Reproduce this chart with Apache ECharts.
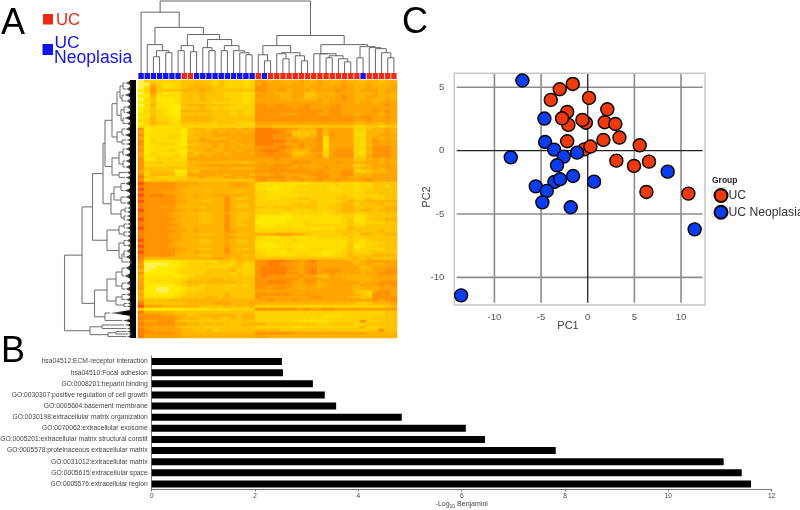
<!DOCTYPE html>
<html><head><meta charset="utf-8">
<style>html,body{margin:0;padding:0;background:#fff}#c{width:800px;height:510px;filter:blur(0.4px)}</style>
<script src="https://cdn.jsdelivr.net/npm/echarts@6/dist/echarts.min.js"></script>
</head><body><div id="c"></div>
<script>
// ---------- Panel A: sample groups in column order (N = UC Neoplasia, U = UC)
const columnGroups = 'NNNNNNNUUNNNNNNNNNNUNUUUUUUUUUUUUUUUNUUUUU'.split('');
// ---------- Panel A: expression level (0 = pale yellow ... 9 = red) per gene band, per sample
const heatRows = [
"033333344 4443433323 66565556556555655 455455",
"005322344 5543432323 67666566556656665 565556",
"026422345 5554433333 77666666566566765 565556",
"137444455 5654444444 77667566656667665 666566",
"026322244 4544433322 66655566445556665 556565",
"115222245 4544433322 76665566445656765 566555",
"024111244 4544443322 66665565556566765 565565",
"124211244 4443333323 66666666666566665 665666",
"025211145 5544443333 77677666766667666 666676",
"124221144 4543433333 77777767766677666 666666",
"134321155 5554443433 77777777777677666 667676",
"224321144 4444443433 77776667776677665 666566",
"125332155 5554444444 77777777777777776 776676",
"235332255 5554444444 77777777777777776 676666",
"135443244 4443444333 66666666666666665 565565",
"223222233 3333333333 55544444444444443 344344",
"712222314 5545556565 88877665557566663 345565",
"612222214 4556565656 88887644447566663 255565",
"722223314 5556666666 88877744457476662 255666",
"612223214 4655556566 88877665667266663 356565",
"713222215 5666665666 88888676667266663 257666",
"712333214 4556566565 88877667667266663 256666",
"612222225 5556565656 77778767667266663 357776",
"712223214 5565566566 78887655577367773 257776",
"613222215 4555656665 77877644566367773 257776",
"622323325 5656666666 77777755667367773 367776",
"712333226 6666666666 66676666666666664 456566",
"733433335 5555555545 66666677766667665 566565",
"723333335 5666666666 67677766656666663 456666",
"744444445 5555665555 66777667666766664 556566",
"634444115 4666666666 77777777767666773 345556",
"735555226 6666656665 66676666677766775 556666",
"844333335 5655566566 77777676667766765 666666",
"734443444 4444444444 77667667667667666 676666",
"977777666 6555556665 32222222233333332 334444",
"877777665 5555556665 22212223333323332 334434",
"977777655 5545555555 22112222232322332 334444",
"877766655 5555555455 33222233333333333 344444",
"978877665 6556665655 32222222333333432 333444",
"877777655 5555575445 33223334433334443 343344",
"977777665 5445575555 33333333343333454 455555",
"877777655 5555575445 33333344443334553 444544",
"877767555 5455575445 44344434443344554 444455",
"977777665 6555575555 33333433343334554 554555",
"877776555 5445565445 33332233333234443 344444",
"877776655 5455575445 21111122222222332 234444",
"977777555 5445575445 11111122222222341 244455",
"877776655 5445575455 11111222322222342 233344",
"877777655 5555575445 21122222333333343 344444",
"977776655 6555575555 22222322222223354 444444",
"877777665 6555576555 33333333333334444 444544",
"877776655 5445565445 55566655433333443 554455",
"877776655 5555566555 32223322223333343 344444",
"977777655 5445565445 22222232222222233 234444",
"877776555 5445565445 21122222222222242 233344",
"977776655 5555565555 21112221222222241 233444",
"877777665 5445575445 22222322223222342 333344",
"977777655 6555575555 32221222222112343 334444",
"877777555 5445565545 33222223322123354 445555",
"855555555 5556655555 44444444444444445 454444",
"711111223 3333443544 77888776786666654 566666",
"600001123 3343333433 77887766776666665 565566",
"700111123 3333334433 78888776776666666 456666",
"501111233 3344445333 78888766786777666 556677",
"711111233 3344443433 78888776786676666 566777",
"511212123 4444444444 78777667665466555 556666",
"622222234 4445544444 77777776776666655 556666",
"612222345 5555555444 77888766775666666 566777",
"611111234 4344443434 77777766665566665 666767",
"711001123 3344434444 77677665665666655 565666",
"511001123 3444444444 66666666666666664 436776",
"611111234 4444454444 77777766766666665 437776",
"522222344 4455454444 76666666677666655 447777",
"644445555 5555555555 66766676666666666 667677",
"844444445 5556665556 55555555555555554 345556",
"966655555 5444454545 33333333333333333 333345",
"411111122 2223223333 77777776766776666 666666",
"855555444 4444444444 33333333333333333 333344",
"777766554 4555555455 33333333333222333 333344",
"877777655 5445445455 33333333323233333 334444",
"766777544 4444444444 33333332222233333 733444",
"877777665 5454544455 55444444443344443 344444",
"766666544 4434444444 33333322333333333 533444",
"876666655 4453444444 55554444444444444 344744",
"877777655 5555555555 77777766666666666 655555",
"866666655 5555555555 66555555555555555 555555"
];
const heatColors = ['#FFF050','#FFEA00','#FFDE00','#FFD200','#FFC400','#FFB400','#FFA400','#FF9400','#FF8000','#FF5010'];
// ---------- Panel A: sample dendrogram [height, childA, childB], leaves are column numbers
const sampleTree = [71,
 [60, 0,
  [45,
   [28, 1, [22, [16,2,3], [20,4,5]]],
   [38,
    [27, [22,6,7], [21,8,9]],
    [33,
     [25, 10, [22,11,12]],
     [27, [22,13,14], [22,15,[20,16,[18,17,18]]]]]]]],
 [37,
  [27, [18,19,[12,20,21]],
       [20, [19,22,[14,23,24]], [17,25,[12,26,27]]]],
  [28,
   [19,28,[19,29,[17,[15,30,31],[14,32,[11,33,34]]]]],
   [26,[15,35,36],[25,37,[24,38,[20,39,[15,40,41]]]]]]]];
// ---------- Panel A: gene dendrogram [distance, childA, childB], leaves are gene clusters [from, to, depth]
const geneTree = [71.5,
 [54,
  [43.5,
   [33,
    [31,
     [24,
      [19,
       [16,[13,[0,6,11],[6,12,10]],[14,[12,18,12],[18,24,10]]],
       [15,[12,[24,30,10],[30,35,11]],[13,[35,41,12],[41,46,10]]]],
      [19,[14,[46,52,11],[52,58,12]],[14,[58,62,10],[62,66,11]]]],
     [24,
      [17,[13,[66,72,11],[72,78,12]],[13,[78,84,11],[84,90,11]]],
      [17,[90,95,10],[95,100,11]]]],
    [25,
     [22,[15,[100,107,11],[107,114,12]],[15,[114,120,11],[120,126,10]]],
     [15,[11,[126,130,9],[130,134,10]],[12,[134,138,10],[138,142,11]]]]],
   [29,
    [17,[12,[142,146,9],[146,150,11]],[12,[150,154,9],[154,158,10]]],
    [17,[12,[158,163,10],[163,168,9]],[14,[12,[168,174,10],[174,180,11]],[180,184,8]]]]],
  [41.5,
   [29,
    [20,[14,[184,192,11],[192,200,12]],[14,[200,206,10],[206,212,11]]],
    [20,[14,[212,217,10],[217,222,11]],[12,[222,225,9],[225,228,10]]]],
   [31,[228,238,26],[238,243,14]]]],
 [46,
  [34,[243,247,12],[247,250,10]],
  [28,[20,[250,253,10],[253,255,8]],[255,258,10]]]];
// ---------- Panel B
const termLabels = ['hsa04512:ECM-receptor interaction','hsa04510:Focal adhesion','GO:0008201:heparin binding','GO:0030307:positive regulation of cell growth','GO:0005604:basement membrane','GO:0030198:extracellular matrix organization','GO:0070062:extracellular exosome','GO:0005201:extracellular matrix structural constit','GO:0005578:proteinaceous extracellular matrix','GO:0031012:extracellular matrix','GO:0005615:extracellular space','GO:0005576:extracellular region'];
const termValues = [2.52,2.54,3.12,3.35,3.57,4.84,6.08,6.45,7.82,11.07,11.42,11.6];
// ---------- Panel C
const pcaUC = [[-1.6,5.26],[-3,4.84],[-3.96,4],[0.14,4.16],[2.1,3.26],[-2.2,3.05],[-0.2,2.2],[-0.57,2.42],[-2.07,2.03],[-2.75,2.55],[1.82,2.24],[2.96,2.1],[3.4,1.03],[1.68,0.84],[-2.2,0.74],[-0.36,0.1],[0.29,0.32],[5.57,0.42],[3.07,-0.79],[4.96,-1.21],[6.57,-0.87],[6.29,-3.26],[10.79,-3.39]];
const pcaNeo = [[-7,5.53],[-4.64,2.53],[-4.57,0.68],[-3.6,0.08],[-2.57,-0.47],[-1.14,-0.16],[-8.25,-0.53],[-3.29,-1.16],[8.57,-1.66],[-1.57,-2],[0.68,-2.45],[-3.57,-2.47],[-2.96,-2.26],[-5.57,-2.82],[-4.39,-3.18],[-4.86,-4.08],[-1.82,-4.47],[11.46,-6.21],[-13.57,-11.42]];
const pcaXTicks = [-10,-5,0,5,10];
const pcaYTicks = [5,0,-5,-10];

const FONT = '"Liberation Sans", Arial, sans-serif';
const cU = '#EE2A12', cN = '#1414E6';

// flatten trees
const sampleSegs = [];
(function walk(n){
  if (typeof n === 'number') return {x:n+0.5,h:0};
  const a = walk(n[1]), b = walk(n[2]);
  sampleSegs.push([a.x,a.h,a.x,n[0]],[b.x,b.h,b.x,n[0]],[a.x,n[0],b.x,n[0]]);
  return {x:(a.x+b.x)/2,h:n[0]};
})(sampleTree);
const geneSegs = [], geneFans = [];
(function walk(n){
  if (!Array.isArray(n[1])) { geneFans.push(n); return {y:(n[0]+n[1])/2,d:n[2]}; }
  const a = walk(n[1]), b = walk(n[2]);
  geneSegs.push([a.d,a.y,n[0],a.y],[b.d,b.y,n[0],b.y],[n[0],a.y,n[0],b.y]);
  return {y:(a.y+b.y)/2,d:n[0]};
})(geneTree);

const heatData = [];
heatRows.forEach((r,i)=>{ r.replace(/ /g,'').split('').forEach((v,j)=>heatData.push([j,i,+v])); });
const heatCols = columnGroups.map((_,i)=>i), heatY = heatRows.map((_,i)=>i);

// PCA reference lines
const pcaGridMajor = [], pcaGridZero = [];
pcaXTicks.forEach(t=>(t===0?pcaGridZero:pcaGridMajor).push([t,6.05,t,-12]));
pcaYTicks.forEach(t=>(t===0?pcaGridZero:pcaGridMajor).push([-14.04,t,12.32,t]));

function segSeries(name,data,xi,yi,color,width,z){
  return {type:'custom',name,xAxisIndex:xi,yAxisIndex:yi,data,silent:true,z:z||2,clip:false,
    encode:{x:[0,2],y:[1,3]},
    renderItem:(p,api)=>{
      const s=api.coord([api.value(0),api.value(1)]), e=api.coord([api.value(2),api.value(3)]);
      return {type:'line',shape:{x1:s[0],y1:s[1],x2:e[0],y2:e[1]},style:{stroke:color,lineWidth:width}};
    }};
}
const text=(t,x,y,size,color,extra)=>({type:'text',x,y,z:20,style:Object.assign({text:t,x:0,y:0,fontSize:size,fill:color,fontFamily:FONT,textVerticalAlign:'middle'},extra||{})});

const chart = echarts.init(document.getElementById('c'),null,{renderer:'canvas'});
chart.setOption({
  animation:false,backgroundColor:'#fff',textStyle:{fontFamily:FONT},
  grid:[
    {left:138,top:73,width:259,height:6,outerBoundsMode:'none'},
    {left:138,top:80,width:259,height:258,outerBoundsMode:'none'},
    {left:138,top:0,width:259,height:73,outerBoundsMode:'none'},
    {left:64,top:80,width:72,height:258,outerBoundsMode:'none'},
    {left:454.3,top:73.3,width:250.7,height:231.7,show:true,borderColor:'#c8c8c8',borderWidth:1.5,backgroundColor:'#fff',outerBoundsMode:'none'},
    {left:151.7,top:356,width:620,height:133.5,outerBoundsMode:'none'}
  ],
  xAxis:[
    {gridIndex:0,type:'category',data:heatCols,show:false},
    {gridIndex:1,type:'category',data:heatCols,show:false},
    {gridIndex:2,type:'value',min:0,max:42,show:false},
    {gridIndex:3,type:'value',min:0,max:72,inverse:true,show:false},
    {gridIndex:4,type:'value',min:-14.3,max:12.57,splitLine:{show:false},axisLine:{show:false},axisTick:{show:false},
      axisLabel:{customValues:pcaXTicks,color:'#555',fontSize:9.5,margin:7,hideOverlap:false}},
    {gridIndex:5,type:'value',min:0,max:12,interval:2,splitLine:{show:false},
      axisLine:{show:true,lineStyle:{color:'#777',width:1}},axisTick:{show:true,length:2,lineStyle:{color:'#777'}},
      axisLabel:{color:'#444',fontSize:6.5,margin:3},
      name:'{a|-Log}{s|10}{a| Benjamini}',nameLocation:'middle',nameGap:9,
      nameTextStyle:{rich:{a:{fontSize:7,color:'#444'},s:{fontSize:5,color:'#444',verticalAlign:'bottom',padding:[6,0,0,0]}}}}
  ],
  yAxis:[
    {gridIndex:0,type:'value',min:0,max:1,show:false},
    {gridIndex:1,type:'category',data:heatY,inverse:true,show:false},
    {gridIndex:2,type:'value',min:0,max:72,show:false},
    {gridIndex:3,type:'value',min:0,max:258,inverse:true,show:false},
    {gridIndex:4,type:'value',min:-12.18,max:6.1,splitLine:{show:false},axisLine:{show:false},axisTick:{show:false},
      axisLabel:{customValues:pcaYTicks,color:'#555',fontSize:9.5,margin:10}},
    {gridIndex:5,type:'category',data:termLabels,inverse:true,
      axisLine:{show:true,lineStyle:{color:'#777',width:1}},axisTick:{show:false},
      axisLabel:{color:'#444',fontSize:6.72,margin:4,interval:0}}
  ],
  visualMap:[{type:'continuous',show:false,min:0,max:9,seriesIndex:1,inRange:{color:heatColors}}],
  legend:{data:['UC','UC Neoplasia'],orient:'vertical',left:713.5,top:188,padding:0,itemWidth:13,itemHeight:13,itemGap:1.7,
    icon:'circle',selectedMode:false,textStyle:{fontSize:12.2,color:'#333',padding:[0,0,0,-4]}},
  series:[
    {type:'bar',xAxisIndex:0,yAxisIndex:0,barWidth:5.4,silent:true,
      data:columnGroups.map(g=>({value:1,itemStyle:{color:g==='N'?cN:cU}}))},
    {type:'heatmap',xAxisIndex:1,yAxisIndex:1,data:heatData,silent:true,progressive:0,emphasis:{disabled:true},itemStyle:{borderWidth:0}},
    segSeries('sampleTree',sampleSegs,2,2,'#666',1),
    segSeries('geneTree',geneSegs,3,3,'#777',1.1),
    {type:'custom',name:'geneFans',xAxisIndex:3,yAxisIndex:3,data:geneFans,silent:true,clip:false,
      encode:{y:[0,1],x:2},
      renderItem:(p,api)=>{
        const y0=api.value(0),y1=api.value(1),d=api.value(2),mid=(y0+y1)/2;
        const tip=api.coord([d,mid]), base=api.coord([0,mid]);
        const pts=[tip,api.coord([6.5,y0+(mid-y0)*0.45]),api.coord([6,y0]),api.coord([0,y0]),api.coord([0,y1]),api.coord([6,y1]),api.coord([6.5,y1-(y1-mid)*0.45])];
        return {type:'polygon',shape:{points:pts},style:{fill:new echarts.graphic.LinearGradient(tip[0],0,base[0],0,[{offset:0,color:'#888'},{offset:0.35,color:'#444'},{offset:0.55,color:'#000'},{offset:1,color:'#000'}],true)}};
      }},
    segSeries('pcaGrid',pcaGridMajor,4,4,'#8c8c8c',1.6,1),
    segSeries('pcaZero',pcaGridZero,4,4,'#222',1.3,1),
    {type:'scatter',name:'UC',xAxisIndex:4,yAxisIndex:4,data:pcaUC,symbolSize:13,z:3,silent:true,
      itemStyle:{color:'#F03A0C',borderColor:'#000',borderWidth:1.4,opacity:1}},
    {type:'scatter',name:'UC Neoplasia',xAxisIndex:4,yAxisIndex:4,data:pcaNeo,symbolSize:13,z:4,silent:true,
      itemStyle:{color:'#0A3CF0',borderColor:'#000',borderWidth:1.4,opacity:1}},
    {type:'bar',xAxisIndex:5,yAxisIndex:5,data:termValues,barWidth:7,silent:true,itemStyle:{color:'#000'}}
  ],
  graphic:[
    text('A',1,24,36,'#000'),
    text('B',1,352,36,'#000'),
    text('C',402,23,36,'#000'),
    {type:'rect',shape:{x:43,y:14,width:10,height:10.5},style:{fill:cU}},
    text('UC',56,20.5,16.8,cU),
    {type:'rect',shape:{x:42.5,y:44,width:10.5,height:11},style:{fill:cN}},
    text('UC',54.5,43,17.4,cN),
    text('Neoplasia',54,58,17.6,cN),
    text('PC1',568,325.5,11,'#444',{textAlign:'center'}),
    {type:'text',x:427,y:197,rotation:Math.PI/2,z:20,style:{text:'PC2',x:0,y:0,fontSize:11,fill:'#444',fontFamily:FONT,textAlign:'center',textVerticalAlign:'middle'}},
    text('Group',712,181,8.5,'#222',{fontWeight:'bold'}),
    {type:'rect',z:0,shape:{x:712,y:187.5,width:15,height:29},style:{fill:'#fff',stroke:'#ddd',lineWidth:1}}
  ]
});
</script></body></html>
